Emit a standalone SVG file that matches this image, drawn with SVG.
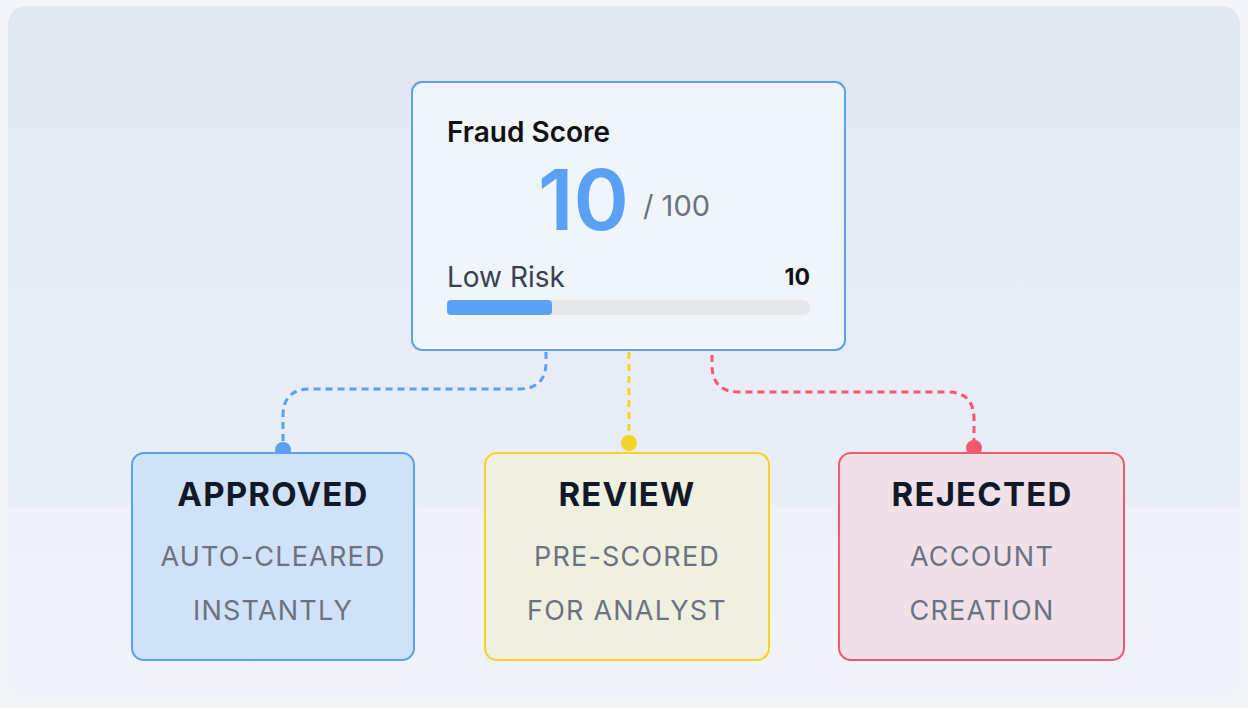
<svg xmlns="http://www.w3.org/2000/svg" width="1248" height="708" viewBox="0 0 1248 708">
<defs>
<linearGradient id="bg" x1="0" y1="0" x2="0" y2="1">
<stop offset="0" stop-color="#e2e8f0"/><stop offset="0.17" stop-color="#e2e8f0"/><stop offset="0.18" stop-color="#e7ebf3"/><stop offset="0.72" stop-color="#e9edf5"/><stop offset="0.73" stop-color="#eef2f8"/><stop offset="1" stop-color="#f0f3f8"/>
</linearGradient>
</defs>
<style>
text{font-family:Inter,"Noto Sans","Liberation Sans",sans-serif}
.t{font-size:33px;font-weight:700;fill:#111827;text-anchor:middle;letter-spacing:1.2px}
.s{font-size:27px;fill:#6b7280;text-anchor:middle;letter-spacing:1.2px}
.c{fill:none;stroke-width:3;stroke-dasharray:7 5}
</style>
<rect x="0" y="0" width="1248" height="708" fill="#f3f5f9"/>
<rect x="8" y="6" width="1232" height="690" rx="18" fill="url(#bg)"/>
<g id="connectors">
<path class="c" stroke="#5aa0f5" d="M546 352 V362 Q546 389 519 389 H310 Q283 389 283 416 V450"/>
<circle cx="283" cy="450" r="8" fill="#5aa0f5"/>
<path class="c" stroke="#f5d327" d="M629 352 V443"/>
<circle cx="629" cy="443" r="8" fill="#f5d327"/>
<path class="c" stroke="#f2586e" d="M712 355 V365 Q712 392 739 392 H947 Q974 392 974 419 V448"/>
<circle cx="974" cy="448" r="8" fill="#f2586e"/>
</g>
<g id="score">
<rect x="412" y="82" width="433" height="268" rx="10" fill="#f0f5fa" stroke="#5aa0f5" stroke-width="2"/>
<text x="447" y="142" font-size="28" font-weight="600" fill="#111">Fraud Score</text>
<text x="538" y="230" font-size="84" font-weight="600" fill="#5aa0f5">10</text>
<text x="643" y="216" font-size="29" fill="#6b7280">/ 100</text>
<text x="447" y="287" font-size="28" fill="#374151">Low Risk</text>
<text x="810" y="285" font-size="23" font-weight="700" fill="#111" text-anchor="end">10</text>
<rect x="447" y="300" width="363" height="15" rx="7" fill="#e5e7eb"/>
<rect x="447" y="300" width="105" height="15" rx="4" fill="#5aa0f5"/>
</g>
<g id="approved">
<rect x="132" y="453" width="282" height="207" rx="12" fill="#d0e2f7" stroke="#5aa0f5" stroke-width="2"/>
<text class="t" x="273" y="506">APPROVED</text>
<text class="s" x="273" y="566">AUTO-CLEARED</text>
<text class="s" x="273" y="620">INSTANTLY</text>
</g>
<g id="review">
<rect x="485" y="453" width="284" height="207" rx="12" fill="#f0f0e0" stroke="#f5d327" stroke-width="2"/>
<text class="t" x="627" y="506">REVIEW</text>
<text class="s" x="627" y="566">PRE-SCORED</text>
<text class="s" x="627" y="620">FOR ANALYST</text>
</g>
<g id="rejected">
<rect x="839" y="453" width="285" height="207" rx="12" fill="#f0e0e8" stroke="#f2586e" stroke-width="2"/>
<text class="t" x="982" y="506">REJECTED</text>
<text class="s" x="982" y="566">ACCOUNT</text>
<text class="s" x="982" y="620">CREATION</text>
</g>
</svg>
